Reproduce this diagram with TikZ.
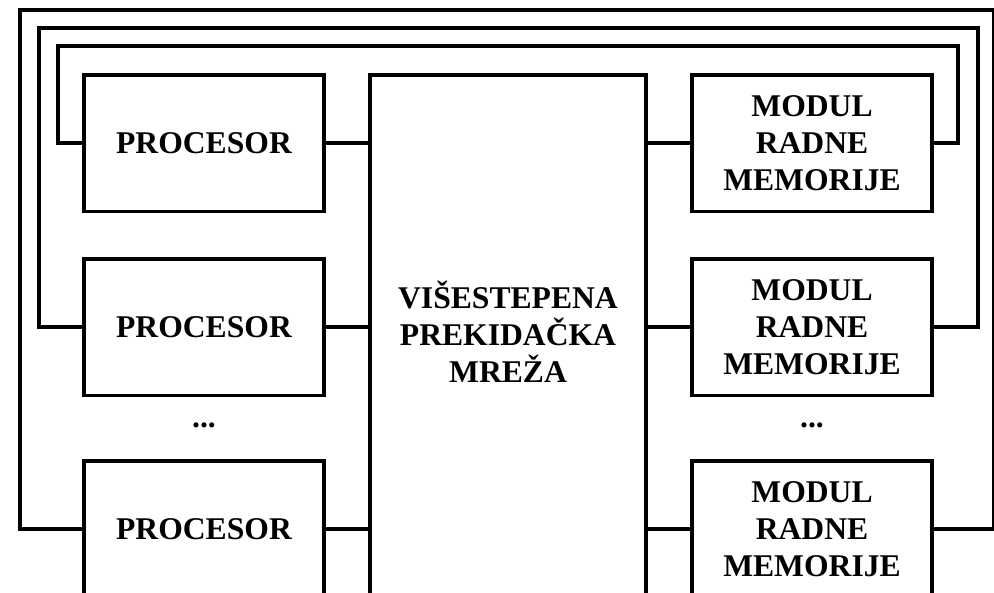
\documentclass[tikz,border=0pt]{standalone}
\usepackage{fontspec}
\setmainfont{Liberation Serif}
\usepackage{tikz}
\usetikzlibrary{positioning}

\begin{document}
\begin{tikzpicture}[
    x=0.02cm, y=-0.02cm,
    line width=2pt,
    unit/.style={draw, align=center, minimum width=4.8cm, minimum height=2.74cm, inner sep=0pt, anchor=north, font=\fontsize{18}{21}\selectfont\bfseries},
    lbl/.style={align=center, font=\fontsize{18}{21}\selectfont\bfseries},
    link/.style={line width=2pt}
]
\clip (0,0) rectangle (994,592);
% processors
\node[unit] (p1) at (204,73) {PROCESOR};
\node[unit] (p2) at (204,257) {PROCESOR};
\node[lbl] (pdots) at (204,425) {...};
\node[unit] (p3) at (204,459) {PROCESOR};
% memory modules
\node[unit] (m1) at (812,73) {MODUL\\RADNE\\MEMORIJE};
\node[unit] (m2) at (812,257) {MODUL\\RADNE\\MEMORIJE};
\node[lbl] (mdots) at (812,425) {...};
\node[unit] (m3) at (812,459) {MODUL\\RADNE\\MEMORIJE};
% switching network
\node[draw, anchor=north, minimum width=5.52cm, minimum height=11.6cm] (mreza) at (508,73) {};
\node[lbl] (mrezatxt) at (508,332) {VIŠESTEPENA\\PREKIDAČKA\\MREŽA};
\foreach \i in {1,2,3} {
  \draw[link] (p\i.east) -- (p\i.east -| mreza.west);
  \draw[link] (m\i.west) -- (m\i.west -| mreza.east);
}
% feedback loops
\coordinate (l1) at (20,10);  \coordinate (r1) at (994,10);
\coordinate (l2) at (39,28);  \coordinate (r2) at (978,28);
\coordinate (l3) at (58,46);  \coordinate (r3) at (958,46);
\draw[link] (p1.west) -| (l3) -- (r3) |- (m1.east);
\draw[link] (p2.west) -| (l2) -- (r2) |- (m2.east);
\draw[link] (p3.west) -| (l1) -- (r1) |- (m3.east);
\end{tikzpicture}
\end{document}
